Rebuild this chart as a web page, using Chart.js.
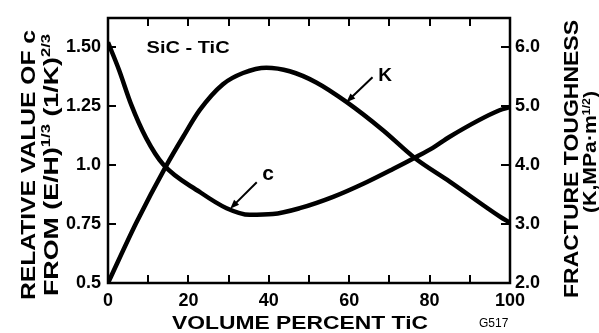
<!DOCTYPE html>
<html>
<head>
<meta charset="utf-8">
<script src="https://cdn.jsdelivr.net/npm/chart.js@4.4.1/dist/chart.umd.min.js"></script>
<style>
  html, body { margin: 0; padding: 0; background: #fff; }
  #wrap { width: 599px; height: 333px; position: relative; }
</style>
</head>
<body>
<div id="wrap"><canvas id="chart" width="599" height="333"></canvas></div>
<script>
// ---- data ----
const volC = [0, 2.7, 5.8, 9.5, 13.7, 22.8, 29.5, 35.2, 41, 47.7, 56, 64.3, 70.9, 76.3, 80.8, 85, 97.4, 100];
const relC = [1.52, 1.405, 1.255, 1.114, 1.003, 0.886, 0.817, 0.789, 0.792, 0.817, 0.865, 0.927, 0.983, 1.031, 1.073, 1.12, 1.232, 1.245];

const volK = [0, 7.1, 14.5, 18.7, 22.8, 28.6, 33.6, 39.4, 45.2, 51.8, 59.3, 68.4, 76.3, 85, 97.4, 100];
const toughK = [2.0, 3.03, 3.99, 4.48, 4.93, 5.37, 5.56, 5.65, 5.59, 5.40, 5.07, 4.59, 4.12, 3.72, 3.13, 3.02];

const xTicks = [0, 10, 20, 30, 40, 50, 60, 70, 80, 90, 100];
const xTickLabels = ['0', '', '20', '', '40', '', '60', '', '80', '', '100'];
const cTicks = [0.5, 0.75, 1.0, 1.25, 1.5];
const cTickLabels = ['0.5', '0.75', '1.0', '1.25', '1.50'];
const kTicks = [2, 3, 4, 5, 6];
const kTickLabels = ['2.0', '3.0', '4.0', '5.0', '6.0'];

const xTitle = 'VOLUME PERCENT TiC';
const leftTitle1 = [{t: 'RELATIVE VALUE OF c'}];
const leftTitle2 = [{t: 'FROM (E/H)'}, {t: '1/3', sup: true}, {t: ' (1/K)'}, {t: '2/3', sup: true}];
const rightTitle1 = [{t: 'FRACTURE TOUGHNESS'}];
const rightTitle2 = [{t: '(K,MPa\u00B7m'}, {t: '1/2', sup: true}, {t: ')'}];
const systemLabel = 'SiC - TiC';
const figCode = 'G517';

// annotation anchors in data units (x: vol %, y: left axis value)
const notes = {
  system: {x: 9.6, y: 1.496},
  kText: {x: 67.2, y: 1.38},
  kArrow: {from: {x: 65.8, y: 1.372}, to: {x: 59.3, y: 1.266}},
  cText: {x: 38.4, y: 0.96},
  cArrow: {from: {x: 37.0, y: 0.927}, to: {x: 30.4, y: 0.815}}
};

const FONT = '"Liberation Sans", Arial, Helvetica, sans-serif';

function runsDraw(ctx, runs, size, stretch, cx, by, rot, supSize, supRise) {
  supSize = supSize || Math.round(size * 0.62);
  supRise = supRise || size * 0.42;
  let total = 0;
  const widths = runs.map(r => {
    ctx.font = 'bold ' + (r.sup ? supSize : size) + 'px ' + FONT;
    const w = ctx.measureText(r.t).width;
    total += w;
    return w;
  });
  const k = stretch ? stretch / total : 1;
  ctx.save();
  ctx.translate(cx, by);
  if (rot) ctx.rotate(rot);
  ctx.scale(k, 1);
  ctx.textBaseline = 'alphabetic';
  ctx.textAlign = 'left';
  ctx.fillStyle = '#000';
  let x = -total / 2;
  runs.forEach((r, i) => {
    ctx.font = 'bold ' + (r.sup ? supSize : size) + 'px ' + FONT;
    ctx.fillText(r.t, x, r.sup ? -supRise : 0);
    x += widths[i];
  });
  ctx.restore();
}

function arrow(ctx, x1, y1, x2, y2) {
  ctx.save();
  ctx.setLineDash([]);
  ctx.strokeStyle = '#000';
  ctx.fillStyle = '#000';
  ctx.lineWidth = 2;
  const ang = Math.atan2(y2 - y1, x2 - x1);
  const L = 9, W = 3.5;
  ctx.beginPath();
  ctx.moveTo(x1, y1);
  ctx.lineTo(x2 - Math.cos(ang) * L * 0.8, y2 - Math.sin(ang) * L * 0.8);
  ctx.stroke();
  ctx.beginPath();
  ctx.moveTo(x2, y2);
  ctx.lineTo(x2 - Math.cos(ang) * L - Math.sin(ang) * W, y2 - Math.sin(ang) * L + Math.cos(ang) * W);
  ctx.lineTo(x2 - Math.cos(ang) * L + Math.sin(ang) * W, y2 - Math.sin(ang) * L - Math.cos(ang) * W);
  ctx.closePath();
  ctx.fill();
  ctx.restore();
}

function drawFrame(chart) {
  const ctx = chart.ctx;
  const area = chart.chartArea;
  const sx = chart.scales.x, sy = chart.scales.y, sk = chart.scales.yK;
  const L = Math.round(area.left), R = Math.round(area.right);
  const T = Math.round(area.top), B = Math.round(area.bottom);
  ctx.save();
  ctx.setLineDash([]);
  ctx.strokeStyle = '#000';
  ctx.lineCap = 'butt';
  ctx.lineWidth = 2.5;
  ctx.strokeRect(L, T, R - L, B - T);
  ctx.lineWidth = 2;
  ctx.beginPath();
  xTicks.forEach(v => {
    const px = Math.round(sx.getPixelForValue(v));
    ctx.moveTo(px, B); ctx.lineTo(px, B - 8);
    ctx.moveTo(px, T); ctx.lineTo(px, T + 8);
  });
  cTicks.forEach(v => {
    const py = Math.round(sy.getPixelForValue(v));
    ctx.moveTo(L, py); ctx.lineTo(L + 8, py);
  });
  kTicks.forEach(v => {
    const py = Math.round(sk.getPixelForValue(v));
    ctx.moveTo(R, py); ctx.lineTo(R - 9, py);
  });
  ctx.stroke();
  ctx.restore();
}

const decor = {
  id: 'decor',
  afterDraw(chart) {
    const ctx = chart.ctx;
    const sx = chart.scales.x, sy = chart.scales.y;

    drawFrame(chart);

    // annotations
    const P = p => ({x: sx.getPixelForValue(p.x), y: sy.getPixelForValue(p.y)});
    const s = P(notes.system);
    ctx.save();
    ctx.fillStyle = '#000';
    ctx.font = 'bold 17px ' + FONT;
    ctx.textBaseline = 'middle';
    ctx.textAlign = 'left';
    const sw = ctx.measureText(systemLabel).width;
    ctx.translate(s.x, s.y);
    ctx.scale(83 / sw, 1);
    ctx.fillText(systemLabel, 0, 0);
    ctx.restore();

    ctx.save();
    ctx.fillStyle = '#000';
    ctx.textBaseline = 'middle';
    ctx.textAlign = 'left';
    ctx.font = 'bold 19px ' + FONT;
    const kt = P(notes.kText);
    ctx.fillText('K', kt.x, kt.y);
    ctx.font = 'bold 21px ' + FONT;
    const ct = P(notes.cText);
    ctx.fillText('c', ct.x, ct.y);
    ctx.restore();

    const ka = P(notes.kArrow.from), kb = P(notes.kArrow.to);
    arrow(ctx, ka.x, ka.y, kb.x, kb.y);
    const ca = P(notes.cArrow.from), cb = P(notes.cArrow.to);
    arrow(ctx, ca.x, ca.y, cb.x, cb.y);

    // axis titles
    runsDraw(ctx, [{t: xTitle}], 19, 256, 300, 329, 0);
    runsDraw(ctx, leftTitle1, 21, 270, 35, 165, -Math.PI / 2);
    runsDraw(ctx, leftTitle2, 21, 262, 58, 165, -Math.PI / 2, 13, 8.5);
    runsDraw(ctx, rightTitle1, 21, 278, 578, 159, -Math.PI / 2);
    runsDraw(ctx, rightTitle2, 19, 122, 596, 152, -Math.PI / 2, 11, 6);

    ctx.save();
    ctx.fillStyle = '#000';
    ctx.font = '12px ' + FONT;
    ctx.textBaseline = 'alphabetic';
    ctx.textAlign = 'left';
    ctx.fillText(figCode, 479, 327);
    ctx.restore();
  }
};

const tickFont = {family: FONT, size: 18, weight: 'bold'};

new Chart(document.getElementById('chart'), {
  type: 'line',
  data: {
    datasets: [
      {
        label: 'c',
        data: volC.map((v, i) => ({x: v, y: relC[i]})),
        yAxisID: 'y',
        borderColor: '#000',
        borderWidth: 4.5,
        pointRadius: 0,
        cubicInterpolationMode: 'monotone',
        fill: false
      },
      {
        label: 'K',
        data: volK.map((v, i) => ({x: v, y: toughK[i]})),
        yAxisID: 'yK',
        borderColor: '#000',
        borderWidth: 4.5,
        pointRadius: 0,
        cubicInterpolationMode: 'monotone',
        fill: false
      }
    ]
  },
  options: {
    responsive: false,
    animation: false,
    devicePixelRatio: 1,
    layout: {padding: {top: 12, left: 0, right: 0, bottom: 0}},
    plugins: {legend: {display: false}, tooltip: {enabled: false}},
    scales: {
      x: {
        type: 'linear', position: 'bottom', min: 0, max: 100,
        afterBuildTicks: s => { s.ticks = xTicks.map(v => ({value: v})); },
        afterFit: s => { s.height = 50; },
        grid: {display: false, drawTicks: false},
        border: {display: false},
        ticks: {
          autoSkip: false, maxRotation: 0, color: '#000', font: tickFont, padding: 7,
          callback: (v, i) => xTickLabels[i]
        }
      },
      y: {
        type: 'linear', position: 'left', min: 0.5, max: 1.624,
        afterBuildTicks: s => { s.ticks = cTicks.map(v => ({value: v})); },
        afterFit: s => { s.width = 108; },
        grid: {display: false, drawTicks: false},
        border: {display: false},
        ticks: {
          color: '#000', font: tickFont, padding: 7,
          callback: (v, i) => cTickLabels[i]
        }
      },
      yK: {
        type: 'linear', position: 'right', min: 2, max: 6.496,
        afterBuildTicks: s => { s.ticks = kTicks.map(v => ({value: v})); },
        afterFit: s => { s.width = 89; },
        grid: {display: false, drawTicks: false},
        border: {display: false},
        ticks: {
          color: '#000', font: tickFont, padding: 5,
          callback: (v, i) => kTickLabels[i]
        }
      }
    }
  },
  plugins: [decor]
});
</script>
</body>
</html>
